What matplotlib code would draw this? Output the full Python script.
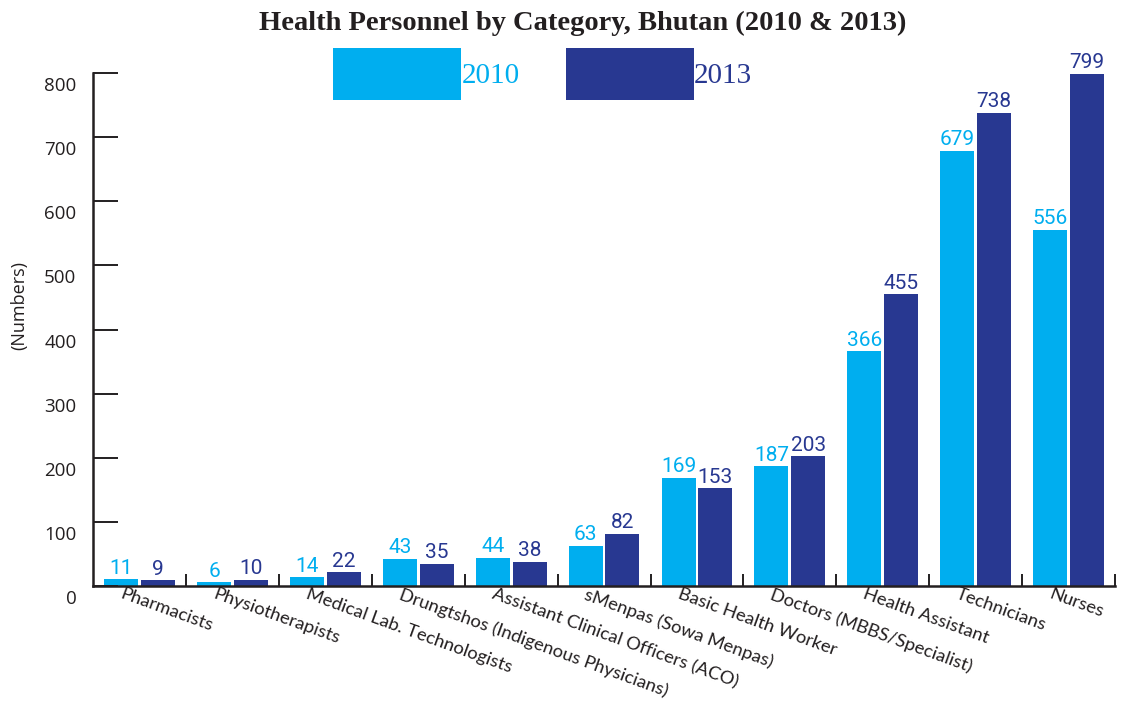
import matplotlib
matplotlib.use("Agg")
import matplotlib.pyplot as plt
import matplotlib.transforms as mtransforms
import numpy as np

categories = [
    "Pharmacists", "Physiotherapists", "Medical Lab. Technologists",
    "Drungtshos (Indigenous Physicians)", "Assistant Clinical Officers (ACO)",
    "sMenpas (Sowa Menpas)", "Basic Health Worker",
    "Doctors (MBBS/Specialist)", "Health Assistant", "Technicians", "Nurses",
]
vals_2010 = [11, 6, 14, 43, 44, 63, 169, 187, 366, 679, 556]
vals_2013 = [9, 10, 22, 35, 38, 82, 153, 203, 455, 738, 799]
series_labels = ["2010", "2013"]
yticks = [0, 100, 200, 300, 400, 500, 600, 700, 800]

C10 = "#00AEEF"
C13 = "#283891"
DARK = "#231F20"
SANS = ["Open Sans", "DejaVu Sans"]
XFONT = ["Lato", "DejaVu Sans"]

fig = plt.figure(figsize=(11.21, 7.07), dpi=100)
ax = fig.add_axes([0.083, 0.171, 0.9117, 0.7257])

x = np.arange(len(categories))
w = 0.366
off = 0.198
b1 = ax.bar(x - off, vals_2010, w, color=C10, label=series_labels[0])
b2 = ax.bar(x + off, vals_2013, w, color=C13, label=series_labels[1])

for bars, col in ((b1, C10), (b2, C13)):
    for t in ax.bar_label(bars, padding=1, color=col, fontsize=15,
                          family=["Roboto", "DejaVu Sans"]):
        t.set_clip_on(False)

ax.set_xlim(-0.5, len(categories) - 0.5)
ax.set_ylim(0, 800)

for s in ("top", "right"):
    ax.spines[s].set_visible(False)
for s in ("left", "bottom"):
    ax.spines[s].set_linewidth(1.8)
    ax.spines[s].set_color(DARK)

# y axis: long inward ticks, labels sit a little below their tick
ax.set_yticks(yticks)
ax.tick_params(axis="y", direction="in", length=18, width=1.4, color=DARK,
               labelsize=13.5, labelcolor=DARK, pad=12)
ydown = mtransforms.ScaledTranslation(0, -11 / 100, fig.dpi_scale_trans)
for lbl in ax.get_yticklabels():
    lbl.set_transform(lbl.get_transform() + ydown)
    lbl.set_family(SANS)

# x axis: labels at group centres, small ticks between groups
ax.set_xticks(x)
ax.set_xticks(np.arange(0.5, len(categories), 1.0), minor=True)
ax.tick_params(axis="x", which="major", length=0, pad=0)
ax.tick_params(axis="x", which="minor", direction="in", length=9, width=1.4, color=DARK)
ax.set_xticklabels(categories, rotation=-20, ha="left", va="top",
                   rotation_mode="anchor", fontsize=13.2, color=DARK, family=XFONT)
xleft = mtransforms.ScaledTranslation(-16 / 100, 0, fig.dpi_scale_trans)
for lbl in ax.get_xticklabels():
    lbl.set_transform(lbl.get_transform() + xleft)

ax.set_ylabel("(Numbers)", fontsize=13, color=DARK, family=SANS)
ax.yaxis.set_label_coords(-0.0636, 0.546)

fig.suptitle("Health Personnel by Category, Bhutan (2010 & 2013)", x=0.52, y=0.985,
             fontsize=20.5, fontweight="bold", family="Liberation Serif", color=DARK)

leg = ax.legend(loc="center", ncol=2, frameon=False, handlelength=4.4,
                handleheight=2.36, handletextpad=0.0, columnspacing=1.58,
                prop={"family": "Liberation Serif", "size": 21})
leg.set_bbox_to_anchor((0.484, 1 - 74 / 707), transform=fig.transFigure)
for t, col in zip(leg.get_texts(), (C10, C13)):
    t.set_color(col)

fig.savefig("out.png", dpi=100)
